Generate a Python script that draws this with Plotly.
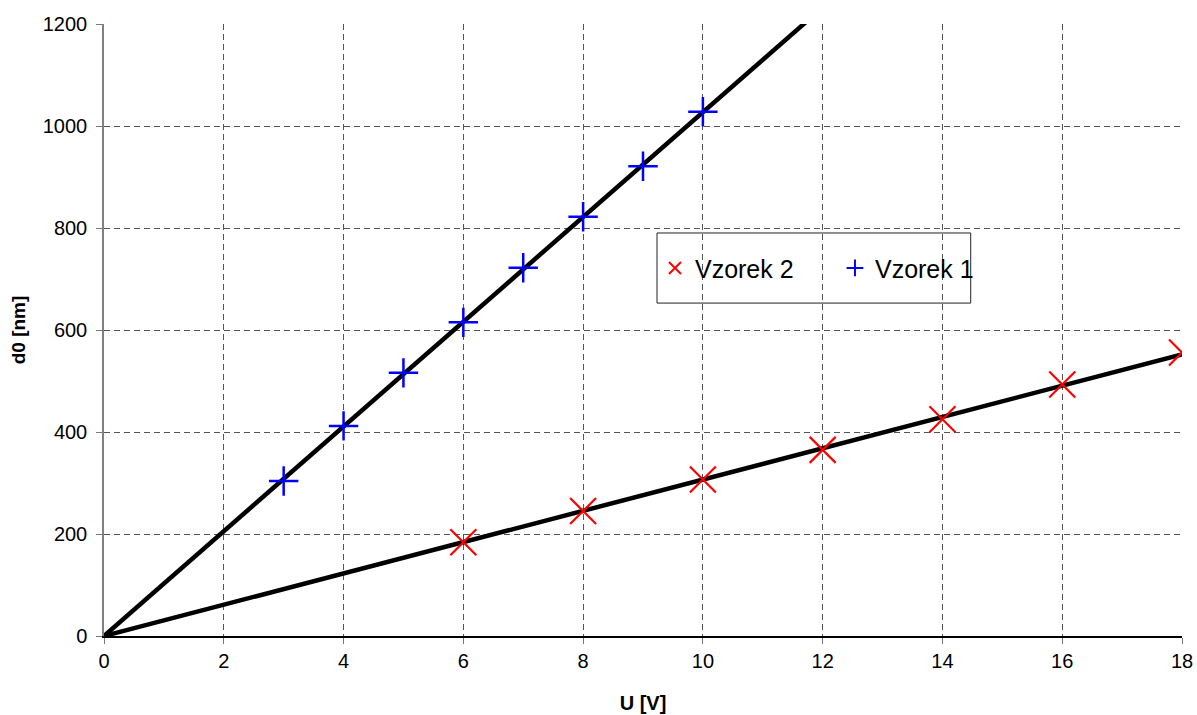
import numpy as np
import plotly.graph_objects as go

# Data
u1 = [3, 4, 5, 6, 7, 8, 9, 10]
d1 = [304, 412, 516, 615, 722, 822, 921, 1028]
u2 = [6, 8, 10, 12, 14, 16, 18]
d2 = [184, 245, 307, 365, 425, 493, 556]
x_ticks = [0, 2, 4, 6, 8, 10, 12, 14, 16, 18]
y_ticks = [0, 200, 400, 600, 800, 1000, 1200]

def fit_origin(x, y):
    x = np.asarray(x, float); y = np.asarray(y, float)
    return float((x * y).sum() / (x * x).sum())

k1 = fit_origin(u1, d1)
k2 = fit_origin(u2, d2)
line_x = np.array([0.0, 18.0])

fig = go.Figure()
fig.add_trace(go.Scatter(x=line_x, y=k1 * line_x, mode="lines",
                         line=dict(color="black", width=4.5), showlegend=False, hoverinfo="skip"))
fig.add_trace(go.Scatter(x=line_x, y=k2 * line_x, mode="lines",
                         line=dict(color="black", width=4.5), showlegend=False, hoverinfo="skip"))
fig.add_trace(go.Scatter(x=u2, y=d2, mode="markers", name="Vzorek 2",
                         marker=dict(symbol="x-thin", size=26, line=dict(color="red", width=2.2), color="red")))
fig.add_trace(go.Scatter(x=u1, y=d1, mode="markers", name="Vzorek 1",
                         marker=dict(symbol="cross-thin", size=21, line=dict(color="blue", width=2.5), color="blue")))

fig.update_layout(
    width=1197, height=715,
    margin=dict(l=104, r=15, t=24, b=79, autoexpand=False),
    paper_bgcolor="white", plot_bgcolor="white",
    font=dict(family="Liberation Sans, Arial", color="black", size=20),
    legend=dict(orientation="h", x=0.5111, y=0.601, xanchor="left", yanchor="middle",
                bgcolor="rgba(0,0,0,0)", borderwidth=0,
                font=dict(size=25), itemsizing="constant", itemwidth=30,
                entrywidth=135, entrywidthmode="pixels"),
    showlegend=True,
    shapes=[dict(type="rect", xref="paper", yref="paper", x0=0.513, x1=0.804, y0=0.544, y1=0.6585,
                 fillcolor="white", line=dict(color="#222", width=1), layer="between")],
)
fig.update_xaxes(range=[0, 18], tickvals=x_ticks, showline=True, linecolor="black", linewidth=1.5,
                 ticks="outside", ticklen=6, tickcolor="#777", showgrid=True, gridcolor="#555",
                 griddash="6px,4px", gridwidth=1, zeroline=False, automargin=False,
                 title=dict(text="<b>U [V]</b>", font=dict(size=20), standoff=25),
                 tickfont=dict(size=20))
fig.update_yaxes(range=[0, 1200], tickvals=y_ticks, showline=True, linecolor="#808080", linewidth=1.5,
                 ticks="outside", ticklen=6, tickcolor="#777", showgrid=True, gridcolor="#555",
                 griddash="6px,4px", gridwidth=1, zeroline=False, automargin=False,
                 ticklabelstandoff=5,
                 title=dict(text="<b>d0 [nm]</b>", font=dict(size=19), standoff=12),
                 tickfont=dict(size=20))

fig.write_html("out.html")
